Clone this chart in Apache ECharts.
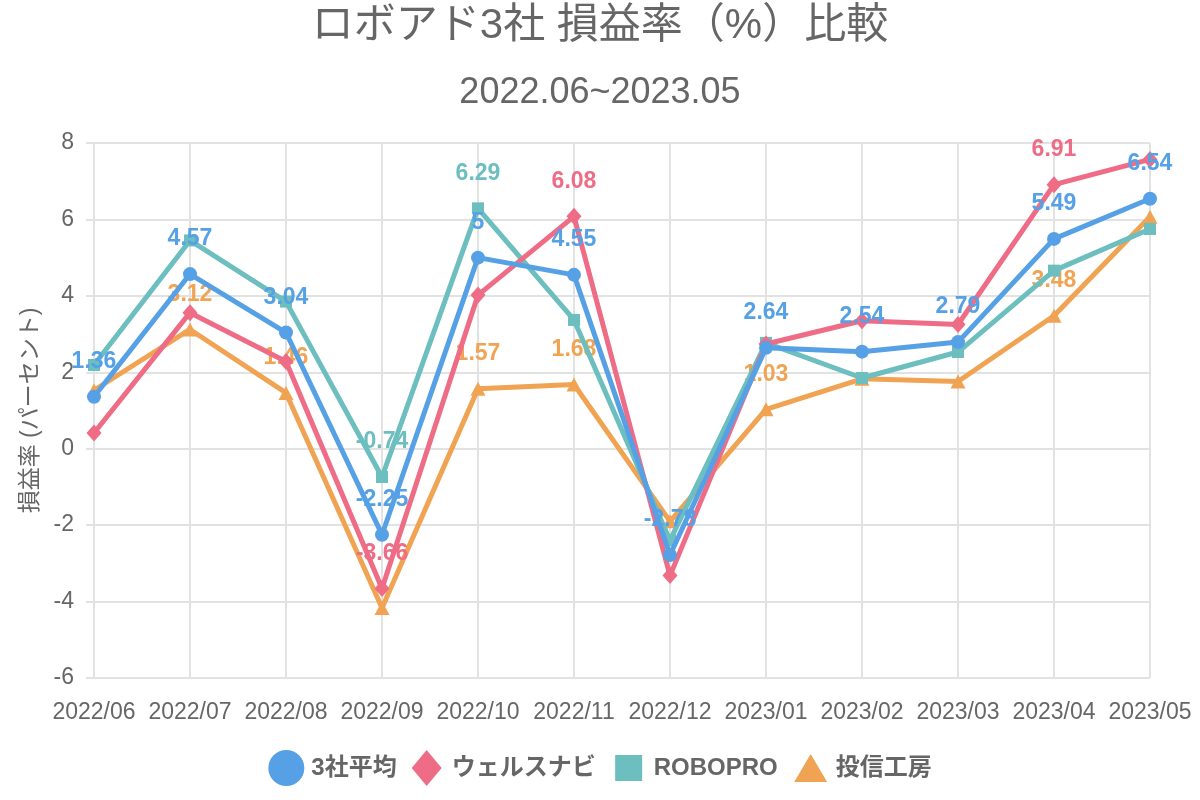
<!DOCTYPE html>
<html>
<head>
<meta charset="utf-8">
<script src="https://cdn.jsdelivr.net/npm/echarts@6/dist/echarts.min.js"></script>
<style>
html,body{margin:0;padding:0;background:#fff;}
#chart{width:1200px;height:800px;}
</style>
</head>
<body>
<div id="chart"></div>
<script>
const categories = ['2022/06','2022/07','2022/08','2022/09','2022/10','2022/11','2022/12','2023/01','2023/02','2023/03','2023/04','2023/05'];
const seriesNames = ['3社平均','ウェルスナビ','ROBOPRO','投信工房'];
const avgValues = [1.36, 4.57, 3.04, -2.25, 5, 4.55, -2.78, 2.64, 2.54, 2.79, 5.49, 6.54];
const wealthNaviValues = [0.41, 3.56, 2.28, -3.66, 4.02, 6.08, -3.32, 2.74, 3.35, 3.25, 6.91, 7.57];
const roboproValues = [2.19, 5.45, 3.85, -0.74, 6.29, 3.37, -2.4, 2.77, 1.85, 2.53, 4.66, 5.75];
const toushinValues = [1.53, 3.12, 1.46, -4.17, 1.57, 1.68, -1.9, 1.03, 1.83, 1.76, 3.48, 6.07];
const yTicks = {min: -6, max: 8, interval: 2};

// indices of points whose data labels are visible in the reference
const labelShown = [
  [0,1,2,3,4,5,6,7,8,9,10,11],
  [3,5,10],
  [3,4],
  [1,2,4,5,7,10]
];

const colors = ['#56A1E5','#EE6C85','#6CBEBF','#F0A453'];
const symbols = ['circle','diamond','rect','triangle'];
const symbolSizes = [14,[15,17],12,[15,14]];
const zs = [5,4,3,2];
const values = [avgValues, wealthNaviValues, roboproValues, toushinValues];
const fontFam = "'Liberation Sans', Arial, 'Noto Sans CJK JP', sans-serif";

const series = seriesNames.map((name, s) => ({
  name: name,
  type: 'line',
  z: zs[s],
  symbol: symbols[s],
  symbolSize: symbolSizes[s],
  lineStyle: {width: 5, color: colors[s]},
  itemStyle: {color: colors[s]},
  emphasis: {disabled: true},
  data: values[s].map((v, i) => ({
    value: v,
    label: {show: labelShown[s].indexOf(i) >= 0}
  })),
  label: {
    position: 'inside',
    offset: [0, -35],
    color: colors[s],
    fontSize: 23,
    fontWeight: 'bold',
    fontFamily: fontFam,
    formatter: p => String(p.value)
  }
}));

const legendIcons = [
  'circle',
  'path://M15,0L30,18L15,36L0,18Z',
  'path://M0,0L0,0ZM36,36L36,36ZM4.5,5H31.5V31H4.5Z',
  'path://M0,0L0,0ZM36,36L36,36ZM18,4L34.5,32H1.5Z'
];

const chart = echarts.init(document.getElementById('chart'));
chart.setOption({
  animation: false,
  color: colors,
  textStyle: {fontFamily: fontFam},
  title: [
    {text: 'ロボアド3社 損益率（%）比較', left: 'center', top: 0,
     textStyle: {fontSize: 42, fontWeight: 'normal', color: '#666', fontFamily: fontFam}},
    {text: '2022.06~2023.05', left: 'center', top: 70,
     textStyle: {fontSize: 36, fontWeight: 'normal', color: '#666', fontFamily: fontFam}}
  ],
  legend: {
    bottom: 9,
    left: 'center',
    itemWidth: 36,
    itemHeight: 36,
    itemGap: 15,
    textStyle: {fontSize: 24, fontWeight: 'bold', color: '#666', fontFamily: fontFam, padding: [0,0,0,2]},
    data: seriesNames.map((n, i) => ({name: n, icon: legendIcons[i]}))
  },
  grid: {left: 94, right: 50, top: 143, bottom: 122, containLabel: false},
  xAxis: {
    type: 'category',
    data: categories,
    boundaryGap: false,
    axisLine: {show: true, lineStyle: {color: '#e2e2e2', width: 2}},
    axisTick: {show: true, length: 8, lineStyle: {color: '#e2e2e2', width: 2}},
    splitLine: {show: true, lineStyle: {color: '#e2e2e2', width: 2}},
    axisLabel: {color: '#666', fontSize: 23, margin: 23, fontFamily: fontFam, interval: 0}
  },
  yAxis: {
    type: 'value',
    min: yTicks.min, max: yTicks.max, interval: yTicks.interval,
    name: '損益率 (パーセント)',
    nameLocation: 'middle',
    nameGap: 52,
    nameTextStyle: {color: '#666', fontSize: 23, fontFamily: fontFam},
    axisLine: {show: true, lineStyle: {color: '#e2e2e2', width: 2}},
    axisTick: {show: true, length: 8, lineStyle: {color: '#e2e2e2', width: 2}},
    splitLine: {show: true, lineStyle: {color: '#e2e2e2', width: 2}},
    axisLabel: {color: '#666', fontSize: 23, margin: 20, fontFamily: fontFam}
  },
  series: series
});
</script>
</body>
</html>
